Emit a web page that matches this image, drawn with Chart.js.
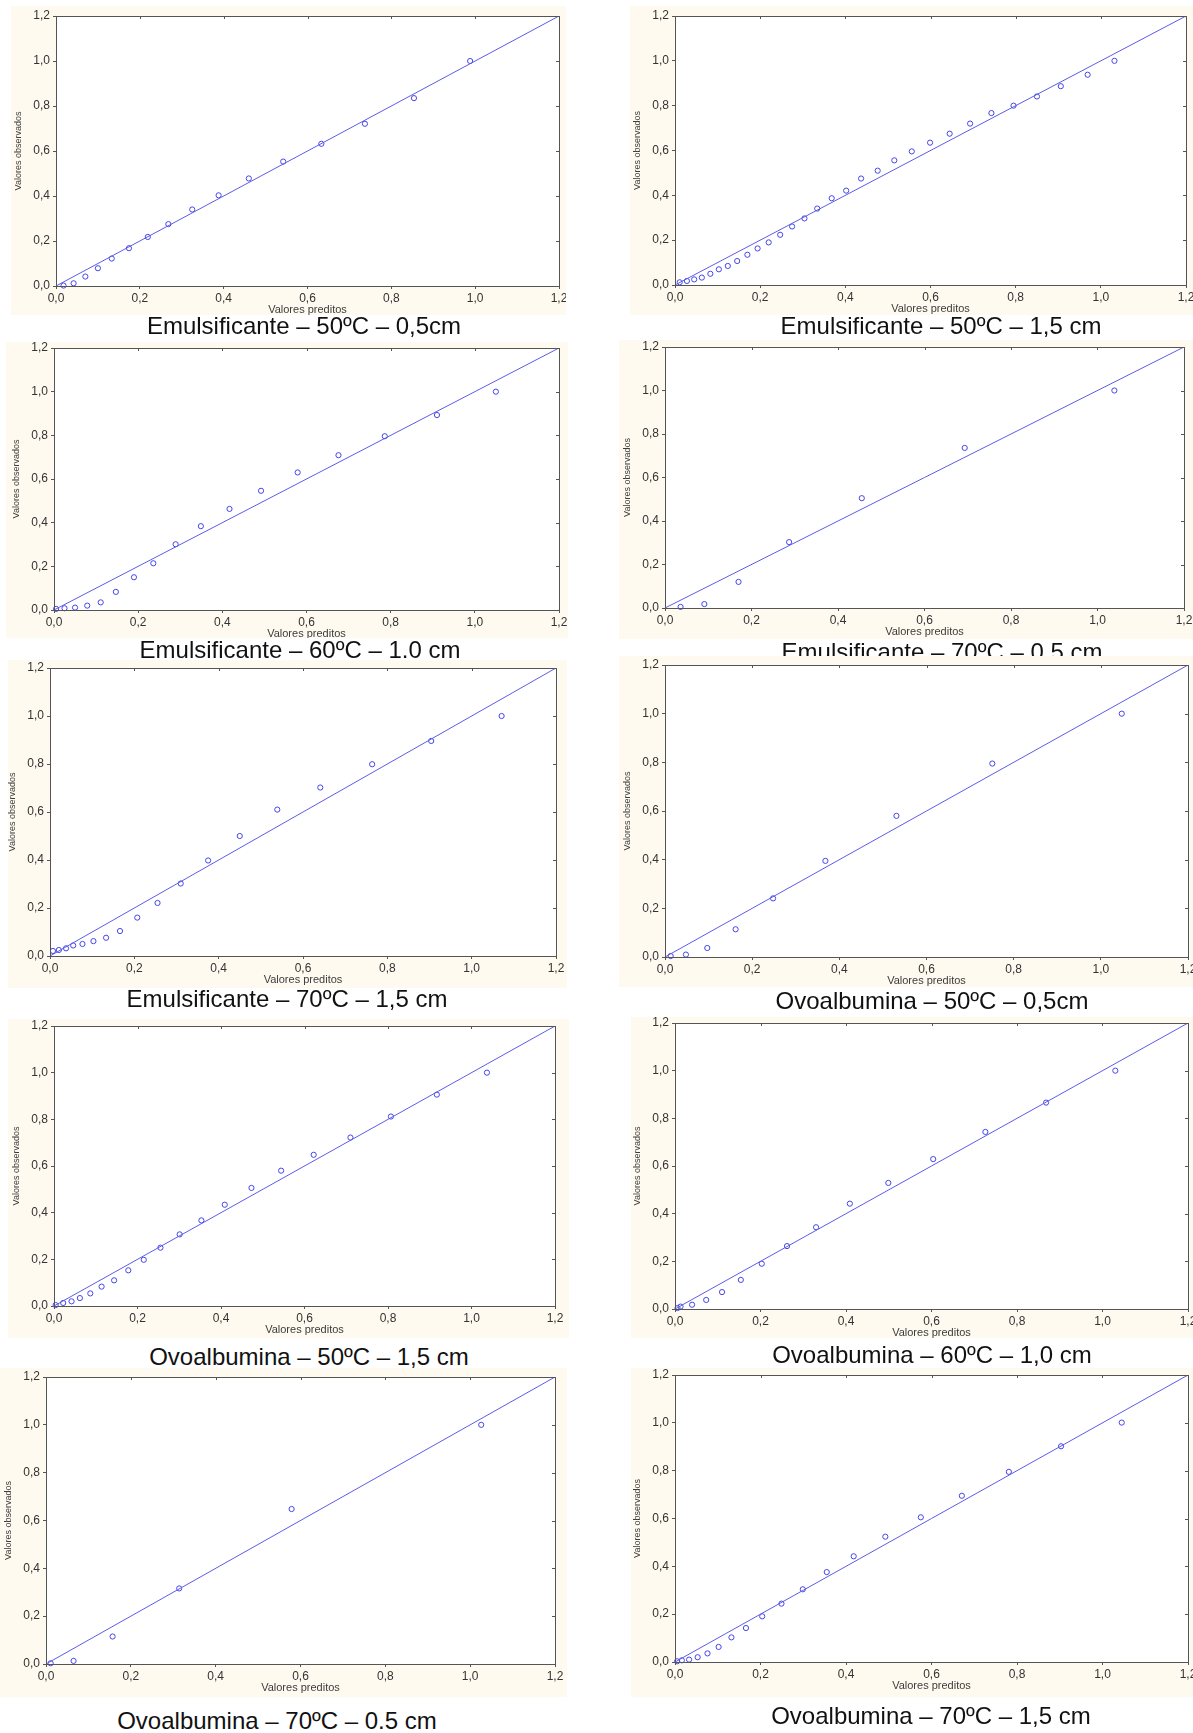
<!DOCTYPE html>
<html lang="pt">
<head>
<meta charset="utf-8">
<script src="https://cdn.jsdelivr.net/npm/chart.js@4.4.1/dist/chart.umd.min.js"></script>
<style>
  html, body { margin: 0; padding: 0; background: #ffffff; }
  body { position: relative; width: 1193px; height: 1733px; overflow: hidden;
         font-family: 'Liberation Sans', Arial, sans-serif; }
  .painel { position: absolute; background: #fffaf0; }
  .painel canvas { display: block; }
  .titulo { position: absolute; font-size: 24px; line-height: 24px; color: #111;
            white-space: nowrap; transform: translateX(-50%); }
</style>
</head>
<body>
<script>
// Axis tick labels (decimal comma) and the 1:1 reference line
const tickLabels = ['0,0', '0,2', '0,4', '0,6', '0,8', '1,0', '1,2'];
const diagonal = [0, 1.2];

// Emulsificante – 50ºC – 0,5cm
const emu50_05Pred = [0.018, 0.042, 0.070, 0.100, 0.133, 0.174, 0.219, 0.268, 0.325, 0.388, 0.460, 0.542, 0.633, 0.737, 0.854, 0.988];
const emu50_05Obs  = [0.002, 0.012, 0.042, 0.079, 0.122, 0.168, 0.218, 0.275, 0.340, 0.403, 0.478, 0.553, 0.632, 0.721, 0.835, 1.000];

// Emulsificante – 50ºC – 1,5 cm
const emu50_15Pred = [0.011, 0.028, 0.045, 0.063, 0.083, 0.103, 0.124, 0.146, 0.170, 0.194, 0.220, 0.247, 0.275, 0.304, 0.334, 0.368, 0.402, 0.437, 0.476, 0.515, 0.556, 0.599, 0.645, 0.693, 0.743, 0.795, 0.850, 0.906, 0.969, 1.032];
const emu50_15Obs  = [0.012, 0.018, 0.025, 0.033, 0.050, 0.070, 0.085, 0.107, 0.135, 0.163, 0.190, 0.224, 0.261, 0.297, 0.341, 0.387, 0.421, 0.475, 0.510, 0.556, 0.596, 0.635, 0.675, 0.720, 0.767, 0.800, 0.841, 0.887, 0.938, 1.000];

// Emulsificante – 60ºC – 1.0 cm
const emu60_10Pred = [0.005, 0.025, 0.050, 0.079, 0.111, 0.147, 0.190, 0.236, 0.289, 0.349, 0.417, 0.492, 0.579, 0.676, 0.786, 0.910, 1.050];
const emu60_10Obs  = [0.005, 0.008, 0.011, 0.020, 0.035, 0.083, 0.150, 0.214, 0.301, 0.384, 0.463, 0.546, 0.630, 0.709, 0.796, 0.893, 1.000];

// Emulsificante – 70ºC – 0.5 cm
const emu70_05Pred = [0.036, 0.091, 0.170, 0.287, 0.455, 0.693, 1.039];
const emu70_05Obs  = [0.005, 0.018, 0.120, 0.303, 0.505, 0.736, 1.000];

// Emulsificante – 70ºC – 1,5 cm
const emu70_15Pred = [0.007, 0.021, 0.038, 0.055, 0.077, 0.103, 0.133, 0.166, 0.207, 0.255, 0.310, 0.375, 0.450, 0.539, 0.641, 0.764, 0.904, 1.071];
const emu70_15Obs  = [0.021, 0.025, 0.032, 0.044, 0.050, 0.062, 0.076, 0.104, 0.160, 0.221, 0.302, 0.398, 0.500, 0.610, 0.702, 0.799, 0.896, 1.000];

// Ovoalbumina – 50ºC – 0,5cm
const ovo50_05Pred = [0.013, 0.048, 0.097, 0.162, 0.248, 0.368, 0.531, 0.751, 1.048];
const ovo50_05Obs  = [0.004, 0.010, 0.037, 0.114, 0.241, 0.395, 0.580, 0.795, 1.000];

// Ovoalbumina – 50ºC – 1,5 cm
const ovo50_15Pred = [0.004, 0.022, 0.042, 0.062, 0.087, 0.114, 0.144, 0.178, 0.215, 0.255, 0.301, 0.353, 0.409, 0.473, 0.544, 0.622, 0.710, 0.807, 0.917, 1.037];
const ovo50_15Obs  = [0.004, 0.013, 0.020, 0.034, 0.054, 0.083, 0.110, 0.153, 0.198, 0.250, 0.307, 0.367, 0.434, 0.506, 0.580, 0.648, 0.722, 0.812, 0.906, 1.000];

// Ovoalbumina – 60ºC – 1,0 cm
const ovo60_10Pred = [0.006, 0.013, 0.040, 0.073, 0.110, 0.154, 0.203, 0.262, 0.330, 0.409, 0.499, 0.604, 0.726, 0.868, 1.030];
const ovo60_10Obs  = [0.004, 0.010, 0.018, 0.038, 0.071, 0.122, 0.190, 0.264, 0.343, 0.442, 0.529, 0.629, 0.743, 0.866, 1.000];

// Ovoalbumina – 70ºC – 0.5 cm
const ovo70_05Pred = [0.011, 0.065, 0.157, 0.314, 0.579, 1.026];
const ovo70_05Obs  = [0.003, 0.013, 0.115, 0.316, 0.648, 1.000];

// Ovoalbumina – 70ºC – 1,5 cm
const ovo70_15Pred = [0.005, 0.016, 0.033, 0.053, 0.076, 0.102, 0.132, 0.166, 0.204, 0.249, 0.299, 0.355, 0.418, 0.492, 0.575, 0.671, 0.781, 0.903, 1.045];
const ovo70_15Obs  = [0.003, 0.007, 0.010, 0.020, 0.036, 0.063, 0.103, 0.142, 0.191, 0.244, 0.304, 0.376, 0.442, 0.524, 0.605, 0.695, 0.795, 0.902, 1.001];

const titles = [
  'Emulsificante – 50ºC – 0,5cm', 'Emulsificante – 50ºC – 1,5 cm',
  'Emulsificante – 60ºC – 1.0 cm', 'Emulsificante – 70ºC – 0.5 cm',
  'Emulsificante – 70ºC – 1,5 cm', 'Ovoalbumina – 50ºC – 0,5cm',
  'Ovoalbumina – 50ºC – 1,5 cm', 'Ovoalbumina – 60ºC – 1,0 cm',
  'Ovoalbumina – 70ºC – 0.5 cm', 'Ovoalbumina – 70ºC – 1,5 cm'
];
const predSeries = [emu50_05Pred, emu50_15Pred, emu60_10Pred, emu70_05Pred, emu70_15Pred,
                    ovo50_05Pred, ovo50_15Pred, ovo60_10Pred, ovo70_05Pred, ovo70_15Pred];
const obsSeries  = [emu50_05Obs, emu50_15Obs, emu60_10Obs, emu70_05Obs, emu70_15Obs,
                    ovo50_05Obs, ovo50_15Obs, ovo60_10Obs, ovo70_05Obs, ovo70_15Obs];

// Page layout: panel box [x, y, w, h], plot frame [left, top, right, bottom], title [centerX, baseline]
const layoutPaineis = [
  { box: [11, 6, 555, 309],    plot: [56, 16, 559, 286],     title: [304, 334] },
  { box: [630, 6, 563, 309],   plot: [675, 16, 1186, 285],   title: [941, 334] },
  { box: [6, 342, 562, 296],   plot: [54, 348, 559, 610],    title: [300, 658] },
  { box: [619, 340, 574, 299], plot: [665, 347, 1184, 608],  title: [942, 660] },
  { box: [8, 660, 559, 328],   plot: [50, 668, 556, 956],    title: [287, 1007] },
  { box: [619, 656, 574, 331], plot: [665, 665, 1190, 957],  title: [932, 1009] },
  { box: [8, 1019, 561, 319],  plot: [54, 1026, 555, 1306],  title: [309, 1365] },
  { box: [631, 1017, 562, 321],plot: [675, 1023, 1192, 1309],title: [932, 1363] },
  { box: [0, 1368, 567, 329],  plot: [46, 1377, 555, 1664],  title: [277, 1729] },
  { box: [631, 1368, 562, 329],plot: [675, 1375, 1191, 1662],title: [931, 1724] }
];

const AZUL_PONTO = '#4646ec';
const AZUL_LINHA = '#5c5ce8';
const MOLDURA = '#555555';
const FONTE = "'Liberation Sans', Arial, sans-serif";

// White plotting area, four-sided frame, inner ticks on top/right and axis titles
const molduraPlugin = {
  id: 'moldura',
  beforeDraw(chart) {
    const { ctx, chartArea: a } = chart;
    ctx.save();
    ctx.fillStyle = '#ffffff';
    ctx.fillRect(a.left, a.top, a.right - a.left, a.bottom - a.top);
    ctx.restore();
  },
  afterDraw(chart) {
    const { ctx, chartArea: a, scales } = chart;
    ctx.save();
    ctx.strokeStyle = MOLDURA;
    ctx.lineWidth = 1;
    ctx.strokeRect(Math.round(a.left) + 0.5, Math.round(a.top) + 0.5,
                   Math.round(a.right - a.left), Math.round(a.bottom - a.top));
    ctx.beginPath();
    scales.x.ticks.forEach(t => {
      const px = Math.round(scales.x.getPixelForValue(t.value)) + 0.5;
      ctx.moveTo(px, a.top);
      ctx.lineTo(px, a.top + 3);
    });
    scales.y.ticks.forEach(t => {
      const py = Math.round(scales.y.getPixelForValue(t.value)) + 0.5;
      ctx.moveTo(a.right, py);
      ctx.lineTo(a.right - 3, py);
    });
    ctx.stroke();

    ctx.fillStyle = '#3c3c3c';
    ctx.textAlign = 'center';
    ctx.textBaseline = 'middle';
    ctx.font = '11px ' + FONTE;
    ctx.fillText('Valores preditos', (a.left + a.right) / 2, a.bottom + 24);
    ctx.translate(a.left - 37, (a.top + a.bottom) / 2);
    ctx.rotate(-Math.PI / 2);
    ctx.font = '9px ' + FONTE;
    ctx.fillText('Valores observados', 0, 0);
    ctx.restore();
  }
};

layoutPaineis.forEach((lay, i) => {
  const [bx, by, bw, bh] = lay.box;
  const [pl, pt, pr, pb] = lay.plot;

  const painel = document.createElement('div');
  painel.className = 'painel';
  painel.style.left = bx + 'px';
  painel.style.top = by + 'px';
  painel.style.width = bw + 'px';
  painel.style.height = bh + 'px';
  const canvas = document.createElement('canvas');
  canvas.width = bw;
  canvas.height = bh;
  painel.appendChild(canvas);
  document.body.appendChild(painel);

  const titulo = document.createElement('div');
  titulo.className = 'titulo';
  titulo.textContent = titles[i];
  titulo.style.left = lay.title[0] + 'px';
  titulo.style.top = (lay.title[1] - 20) + 'px';
  document.body.appendChild(titulo);

  const pontos = predSeries[i].map((x, k) => ({ x, y: obsSeries[i][k] }));
  const linha = diagonal.map(v => ({ x: v, y: v }));

  const eixoComum = {
    type: 'linear', min: 0, max: 1.2,
    border: { display: false },
    grid: { drawOnChartArea: false, drawTicks: true, tickLength: 3, color: MOLDURA, lineWidth: 1 },
    ticks: {
      stepSize: 0.2, autoSkip: false, maxRotation: 0, color: '#333333',
      font: { family: FONTE, size: 12 },
      callback: (v, idx) => tickLabels[idx]
    }
  };

  new Chart(canvas, {
    type: 'scatter',
    data: {
      datasets: [
        { type: 'line', data: linha, borderColor: AZUL_LINHA, borderWidth: 1,
          pointRadius: 0, fill: false, tension: 0 },
        { type: 'scatter', data: pontos, borderColor: AZUL_PONTO, backgroundColor: 'rgba(0,0,0,0)',
          borderWidth: 1, pointRadius: 2.6, pointStyle: 'circle', clip: false }
      ]
    },
    options: {
      responsive: false,
      animation: false,
      events: [],
      layout: { padding: { left: 0, top: pt - by, right: bx + bw - pr, bottom: 0 } },
      plugins: { legend: { display: false }, tooltip: { enabled: false } },
      scales: {
        x: Object.assign({}, eixoComum, {
          position: 'bottom',
          ticks: Object.assign({}, eixoComum.ticks, { padding: 2 }),
          afterFit(s) { s.height = by + bh - pb; s.paddingLeft = 0; s.paddingRight = 0; }
        }),
        y: Object.assign({}, eixoComum, {
          position: 'left',
          ticks: Object.assign({}, eixoComum.ticks, { padding: 3 }),
          afterFit(s) { s.width = pl - bx; s.paddingTop = 0; s.paddingBottom = 0; }
        })
      }
    },
    plugins: [molduraPlugin]
  });
});
</script>
</body>
</html>
